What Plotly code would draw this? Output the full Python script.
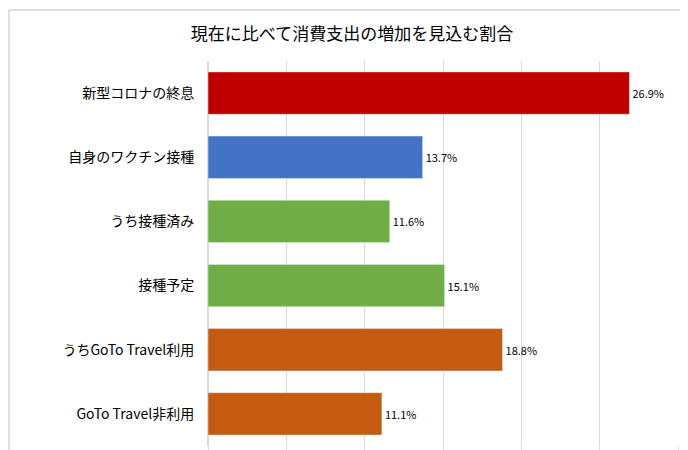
import plotly.graph_objects as go

categories = ["新型コロナの終息", "自身のワクチン接種", "うち接種済み", "接種予定", "うちGoTo Travel利用", "GoTo Travel非利用"]
values = [26.9, 13.7, 11.6, 15.1, 18.8, 11.1]
colors = ["#C00000", "#4472C4", "#70AD47", "#70AD47", "#C55A11", "#C55A11"]
labels = [f"{v}%" for v in values]

fig = go.Figure(go.Bar(
    y=categories, x=values, orientation="h", marker_color=colors, width=0.66,
    text=labels, textposition="outside", cliponaxis=False,
    textfont=dict(size=11, color="#000000", family="Noto Sans CJK JP"),
))
fig.update_layout(
    width=688, height=450, plot_bgcolor="white", paper_bgcolor="white",
    margin=dict(l=200, r=18, t=53, b=12, autoexpand=False),
    title=dict(text="現在に比べて消費支出の増加を見込む割合", x=0.5, xanchor="center", y=0.955,
               font=dict(size=17, color="#000000", family="Noto Sans CJK JP")),
    font=dict(family="Noto Sans CJK JP", color="#000000"),
    showlegend=False,
    shapes=[dict(type="rect", xref="paper", yref="paper", x0=-199/470, x1=1+16/470, y0=-10/385, y1=1+51/385,
                 line=dict(color="#BFBFBF", width=1))],
)
fig.update_xaxes(range=[0, 30], dtick=5, showgrid=True, gridcolor="#D9D9D9", showticklabels=False,
                 zeroline=True, zerolinecolor="#D9D9D9", ticks="outside", ticklen=6, tickcolor="#D9D9D9",
                 automargin=False)
fig.update_yaxes(autorange="reversed", tickfont=dict(size=14), ticks="", ticklabelstandoff=10,
                 showline=True, linecolor="#D9D9D9", automargin=False)
fig.write_html("out.html")
